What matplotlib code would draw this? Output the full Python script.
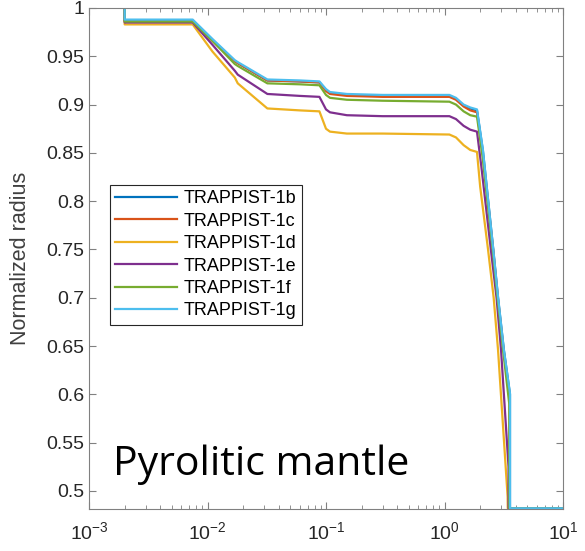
import matplotlib
matplotlib.use('Agg')
import matplotlib.pyplot as plt
from matplotlib.ticker import LogLocator, MultipleLocator, FuncFormatter

plt.rcParams['font.family'] = ['Liberation Sans', 'DejaVu Sans']
plt.rcParams['mathtext.default'] = 'regular'

# shared x grid for the upper part of every curve
x_head = [0.002, 0.002, 0.0075, 0.011, 0.017, 0.018, 0.032, 0.06, 0.088, 0.1, 0.108,
          0.15, 0.3, 1.1, 1.25, 1.45, 1.65, 1.88]

names = ['TRAPPIST-1b', 'TRAPPIST-1c', 'TRAPPIST-1d', 'TRAPPIST-1e', 'TRAPPIST-1f', 'TRAPPIST-1g']
colors = ['#0072BD', '#D95319', '#EDB120', '#7E2F8E', '#77AC30', '#4DBEEE']

# normalized radius along the shared grid
b_head = [1.0, 0.987, 0.987, 0.967, 0.945, 0.943, 0.925, 0.924, 0.923, 0.915, 0.912, 0.910, 0.909, 0.909, 0.906, 0.899, 0.896, 0.894]
c_head = [1.0, 0.986, 0.986, 0.966, 0.945, 0.943, 0.925, 0.924, 0.923, 0.914, 0.911, 0.909, 0.908, 0.908, 0.905, 0.898, 0.894, 0.892]
d_head = [1.0, 0.983, 0.983, 0.955, 0.928, 0.922, 0.896, 0.894, 0.893, 0.875, 0.872, 0.870, 0.870, 0.869, 0.866, 0.858, 0.853, 0.851]
e_head = [1.0, 0.985, 0.985, 0.962, 0.935, 0.931, 0.911, 0.909, 0.908, 0.895, 0.892, 0.889, 0.888, 0.888, 0.885, 0.878, 0.874, 0.872]
f_head = [1.0, 0.986, 0.986, 0.966, 0.942, 0.940, 0.922, 0.921, 0.920, 0.910, 0.907, 0.905, 0.904, 0.903, 0.900, 0.893, 0.889, 0.8875]
g_head = [1.0, 0.988, 0.988, 0.968, 0.946, 0.944, 0.926, 0.925, 0.924, 0.916, 0.913, 0.911, 0.910, 0.910, 0.907, 0.900, 0.897, 0.895]

# steep drop near the core boundary
b_tail_x = [2.11, 2.58, 2.83, 3.17, 3.57, 3.57, 10]
b_tail_y = [0.852, 0.750, 0.700, 0.646, 0.600, 0.482, 0.482]
c_tail_x = [2.10, 2.57, 2.82, 3.15, 3.55, 3.55, 10]
c_tail_y = [0.850, 0.750, 0.700, 0.646, 0.598, 0.482, 0.482]
d_tail_x = [2.0, 2.33, 2.6, 2.83, 3.41, 3.42, 10]
d_tail_y = [0.815, 0.750, 0.700, 0.646, 0.494, 0.482, 0.482]
e_tail_x = [2.05, 2.46, 2.75, 3.0, 3.47, 3.47, 10]
e_tail_y = [0.835, 0.750, 0.700, 0.646, 0.525, 0.482, 0.482]
f_tail_x = [2.10, 2.55, 2.80, 3.12, 3.52, 3.52, 10]
f_tail_y = [0.845, 0.750, 0.700, 0.646, 0.590, 0.482, 0.482]
g_tail_x = [2.11, 2.58, 2.83, 3.17, 3.57, 3.57, 10]
g_tail_y = [0.853, 0.750, 0.701, 0.646, 0.601, 0.482, 0.482]

heads = [b_head, c_head, d_head, e_head, f_head, g_head]
tails_x = [b_tail_x, c_tail_x, d_tail_x, e_tail_x, f_tail_x, g_tail_x]
tails_y = [b_tail_y, c_tail_y, d_tail_y, e_tail_y, f_tail_y, g_tail_y]

fig = plt.figure(figsize=(5.85, 5.51), dpi=100)
ax = fig.add_axes([89/585, 1-509/551, 474/585, 501/551])

for name, col, hy, tx, ty in zip(names, colors, heads, tails_x, tails_y):
    ax.plot(x_head + tx, hy + ty, color=col, lw=1.6, label=name)

ax.set_xscale('log')
ax.set_xlim(1e-3, 1e1)
ax.set_ylim(0.4813, 1.0)
ax.yaxis.set_major_locator(MultipleLocator(0.05))
ax.yaxis.set_major_formatter(FuncFormatter(lambda v, p: '%g' % round(v, 3)))
ax.xaxis.set_major_locator(LogLocator(base=10, numticks=10))

ax.tick_params(which='both', direction='in', top=True, right=True,
               colors='#808080', labelcolor='#262626', labelsize=14)
ax.tick_params(which='major', length=5)
ax.tick_params(which='minor', length=3)
ax.tick_params(axis='x', pad=9)
for s in ax.spines.values():
    s.set_color('#808080')

ax.set_ylabel('Normalized radius', fontsize=15.5, color='#404040')
ax.yaxis.set_label_coords(-0.122, 0.5)

leg = ax.legend(loc='upper left', bbox_to_anchor=(0.044, 0.647), fontsize=13,
                frameon=True, fancybox=False, edgecolor='#262626', framealpha=1,
                handlelength=3.4, labelspacing=0.3, borderpad=0.3, handletextpad=0.4,
                borderaxespad=0)
leg.get_frame().set_linewidth(0.8)

fig.text(113/585, 1-475/551, 'Pyrolitic mantle', fontsize=29.5, family='Open Sans',
         va='baseline', ha='left', color='black')

fig.savefig('out.png', dpi=100)
